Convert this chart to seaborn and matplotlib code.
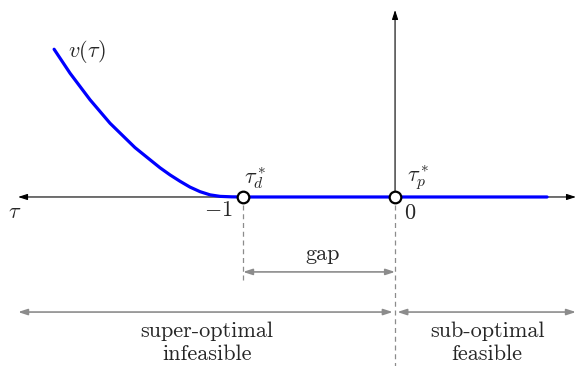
import seaborn as sns
import pandas as pd
import numpy as np
import matplotlib
matplotlib.use("Agg")
import matplotlib.pyplot as plt

tau_curve = [-2.243, -2.138, -2.007, -1.875, -1.711, -1.612, -1.546, -1.480,
             -1.414, -1.349, -1.283, -1.217, -1.151, -1.075, -1.0, 1.0]
v_curve = [0.972, 0.814, 0.640, 0.485, 0.325, 0.245, 0.192, 0.145,
           0.103, 0.065, 0.035, 0.014, 0.004, 0.001, 0.0, 0.0]
tau_points = [-1.0, 0.0]
v_points = [0.0, 0.0]
point_labels = [r"$\tau_d^*$", r"$\tau_p^*$"]
region_top = ["super-optimal", "sub-optimal"]
region_bottom = ["infeasible", "feasible"]

sns.set_style("white")
plt.rcParams["mathtext.fontset"] = "cm"
plt.rcParams["font.family"] = ["cmr10", "DejaVu Serif"]

fig = plt.figure(figsize=(5.77, 3.66), dpi=100)
ax = fig.add_axes([0, 0, 1, 1])
ax.axis("off")

gray = "#8c8c8c"
head = "<|-|>,head_length=0.55,head_width=0.18"

# axes with arrows
ax.annotate("", xy=(-2.48, 0), xytext=(1.19, 0),
            arrowprops=dict(arrowstyle=head, color="black", lw=0.8,
                            shrinkA=0, shrinkB=0))
ax.annotate("", xy=(0, 1.23), xytext=(0, 0),
            arrowprops=dict(arrowstyle="-|>,head_length=0.55,head_width=0.18",
                            color="black", lw=0.8, shrinkA=0, shrinkB=0))

# curve
df = pd.DataFrame({"tau": tau_curve, "v": v_curve})
sns.lineplot(data=df, x="tau", y="v", ax=ax, color="blue", lw=2.3, sort=False,
             zorder=3)

# dashed guides
ax.plot([-1, -1], [-0.053, -0.546], ls=(0, (4, 3)), color=gray, lw=0.9)
ax.plot([0, 0], [-0.053, -1.112], ls=(0, (4, 3)), color=gray, lw=0.9)

# gap arrow
ax.annotate("", xy=(-1, -0.493), xytext=(0, -0.493),
            arrowprops=dict(arrowstyle=head, color=gray, lw=1.2,
                            shrinkA=0, shrinkB=0))
ax.text(-0.48, -0.414, "gap", ha="center", va="baseline", fontsize=16)

# region arrows
ax.annotate("", xy=(-2.48, -0.757), xytext=(-0.015, -0.757),
            arrowprops=dict(arrowstyle=head, color=gray, lw=1.2,
                            shrinkA=0, shrinkB=0))
ax.annotate("", xy=(0.015, -0.757), xytext=(1.19, -0.757),
            arrowprops=dict(arrowstyle=head, color=gray, lw=1.2,
                            shrinkA=0, shrinkB=0))
for xc, top, bot in zip([-1.237, 0.605], region_top, region_bottom):
    ax.text(xc, -0.921, top, ha="center", va="baseline", fontsize=16)
    ax.text(xc, -1.072, bot, ha="center", va="baseline", fontsize=16)

# optimal points
pts = pd.DataFrame({"tau": tau_points, "v": v_points})
sns.scatterplot(data=pts, x="tau", y="v", ax=ax, s=70, facecolor="white",
                edgecolor="black", linewidth=1.6, zorder=5)
ax.text(-0.92, 0.125, point_labels[0], ha="center", va="center", fontsize=16)
ax.text(0.15, 0.125, point_labels[1], ha="center", va="center", fontsize=16)

# tick-ish labels
ax.text(-1.164, -0.09, r"$-1$", ha="center", va="center", fontsize=16)
ax.text(0.1, -0.105, r"$0$", ha="center", va="center", fontsize=16)
ax.text(-2.5, -0.1, r"$\tau$", ha="center", va="center", fontsize=16)
ax.text(-2.03, 0.96, r"$v(\tau)$", ha="center", va="center", fontsize=16)

ax.set_xlim(-2.599, 1.197)
ax.set_ylim(-1.112, 1.296)
fig.savefig("out.png", dpi=100)
